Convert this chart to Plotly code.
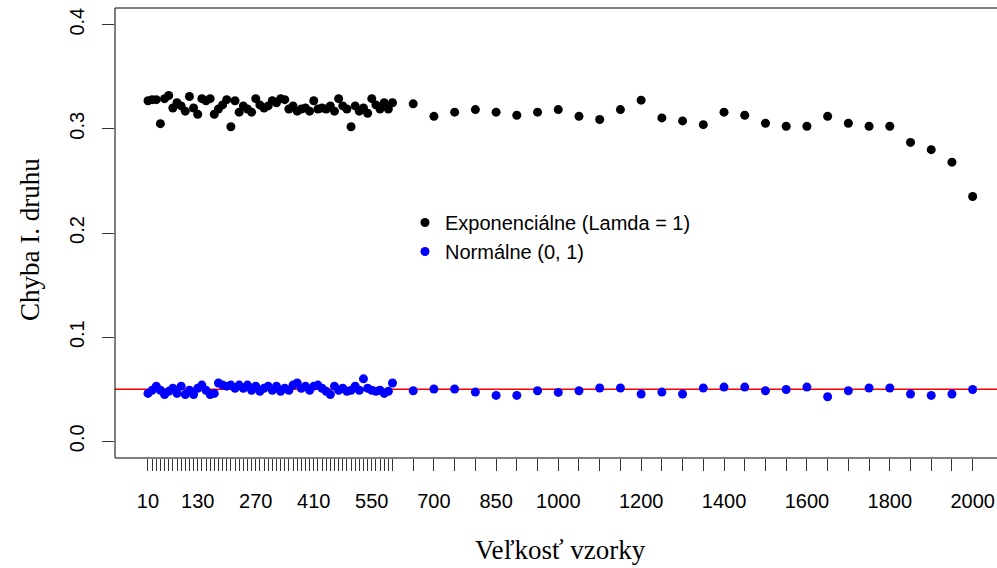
import plotly.graph_objects as go

# sample sizes
n_dense = list(range(10, 601, 10))
n_sparse = list(range(650, 2001, 50))
sizes = n_dense + n_sparse

exp_dense = [0.327, 0.328, 0.328, 0.305, 0.329, 0.332, 0.320, 0.325, 0.322, 0.317,
             0.331, 0.320, 0.314, 0.329, 0.327, 0.329, 0.314, 0.319, 0.323, 0.328,
             0.302, 0.327, 0.316, 0.322, 0.319, 0.316, 0.329, 0.323, 0.320, 0.322,
             0.327, 0.325, 0.329, 0.328, 0.319, 0.322, 0.317, 0.319, 0.320, 0.317,
             0.327, 0.319, 0.320, 0.319, 0.322, 0.317, 0.329, 0.322, 0.319, 0.302,
             0.322, 0.317, 0.320, 0.315, 0.329, 0.323, 0.319, 0.325, 0.319, 0.325]
exp_sparse = [0.324, 0.312, 0.316, 0.3185, 0.316, 0.313, 0.316, 0.3185, 0.312, 0.309,
              0.3185, 0.3275, 0.3105, 0.3076, 0.304, 0.316, 0.313, 0.3054, 0.3025, 0.3025,
              0.312, 0.3054, 0.3025, 0.3025, 0.287, 0.280, 0.268, 0.235]
exp_vals = exp_dense + exp_sparse

norm_dense = [0.046, 0.049, 0.053, 0.049, 0.045, 0.048, 0.051, 0.046, 0.053, 0.045,
              0.049, 0.045, 0.051, 0.054, 0.049, 0.045, 0.046, 0.056, 0.054, 0.053,
              0.054, 0.051, 0.054, 0.051, 0.054, 0.049, 0.053, 0.048, 0.051, 0.053,
              0.049, 0.053, 0.048, 0.051, 0.049, 0.054, 0.056, 0.051, 0.053, 0.049,
              0.053, 0.054, 0.051, 0.048, 0.045, 0.053, 0.049, 0.051, 0.048, 0.049,
              0.053, 0.049, 0.060, 0.051, 0.049, 0.048, 0.049, 0.046, 0.048, 0.056]
norm_sparse = [0.0486, 0.0502, 0.0502, 0.0473, 0.0441, 0.0441, 0.0486, 0.047, 0.0486, 0.0512,
               0.0512, 0.0454, 0.0473, 0.0454, 0.0512, 0.0521, 0.0521, 0.0486, 0.0498, 0.0521,
               0.0428, 0.0486, 0.0512, 0.0512, 0.0454, 0.0441, 0.0454, 0.0498]
norm_vals = norm_dense + norm_sparse

x_labels_shown = [10, 130, 270, 410, 550, 700, 850, 1000, 1200, 1400, 1600, 1800, 2000]
tick_text = [str(v) if v in x_labels_shown else "" for v in sizes]
y_ticks = [0.0, 0.1, 0.2, 0.3, 0.4]
alpha = 0.05

SANS = "Liberation Sans, Arial, sans-serif"
SERIF = "Liberation Serif, Times New Roman, serif"

fig = go.Figure()
fig.add_trace(go.Scatter(x=sizes, y=exp_vals, mode="markers", name="Exponenciálne (Lamda = 1)",
                         legendgroup="a",
                         marker=dict(color="black", size=9, line=dict(width=0))))
fig.add_trace(go.Scatter(x=sizes, y=norm_vals, mode="markers", name="Normálne (0, 1)",
                         legendgroup="b",
                         marker=dict(color="#0000FF", size=9, line=dict(width=0))))

fig.add_shape(type="line", xref="paper", yref="y", x0=0, x1=1, y0=alpha, y1=alpha,
              line=dict(color="#FF0000", width=1.3), layer="below")
fig.add_shape(type="rect", xref="paper", yref="paper", x0=0, x1=1.02, y0=0, y1=1,
              line=dict(color="black", width=1))

fig.update_layout(
    width=997, height=568,
    margin=dict(l=115, r=0, t=8, b=110),
    plot_bgcolor="white", paper_bgcolor="white",
    showlegend=True,
    legend=dict(x=(405 - 115) / 882, y=(458.4 - 203) / 450.8, xanchor="left", yanchor="top",
                bgcolor="rgba(0,0,0,0)", borderwidth=0, tracegroupgap=0,
                font=dict(family=SANS, size=20, color="black")),
    xaxis=dict(range=[-69.6, 2058.7], showgrid=False, zeroline=False, showline=False,
               tickmode="array", tickvals=sizes, ticktext=tick_text,
               ticks="outside", ticklen=12, tickwidth=1, tickcolor="#333333",
               ticklabelstandoff=13,
               tickfont=dict(family=SANS, size=20, color="black"), tickangle=0),
    yaxis=dict(range=[-0.016, 0.416], showgrid=False, zeroline=False, showline=False,
               tickmode="array", tickvals=y_ticks, ticktext=["0.0", "0.1", "0.2", "0.3", "0.4"],
               ticks="outside", ticklen=12, tickwidth=1, tickcolor="#333333",
               ticklabelstandoff=10,
               tickangle=-90, tickfont=dict(family=SANS, size=20, color="black")),
    annotations=[
        dict(text="Veľkosť vzorky", xref="paper", yref="paper",
             x=(560 - 115) / 882, y=(458.4 - 551) / 450.8, xanchor="center", yanchor="middle",
             showarrow=False, font=dict(family=SERIF, size=27, color="black")),
        dict(text="Chyba I. druhu", xref="paper", yref="paper",
             x=(30 - 115) / 882, y=(458.4 - 240) / 450.8, xanchor="center", yanchor="middle",
             textangle=-90, showarrow=False, font=dict(family=SERIF, size=27, color="black")),
    ],
)

fig.write_html("out.html", config={"displayModeBar": False},
               post_script="document.body.style.margin='0';document.body.style.overflow='hidden';")
